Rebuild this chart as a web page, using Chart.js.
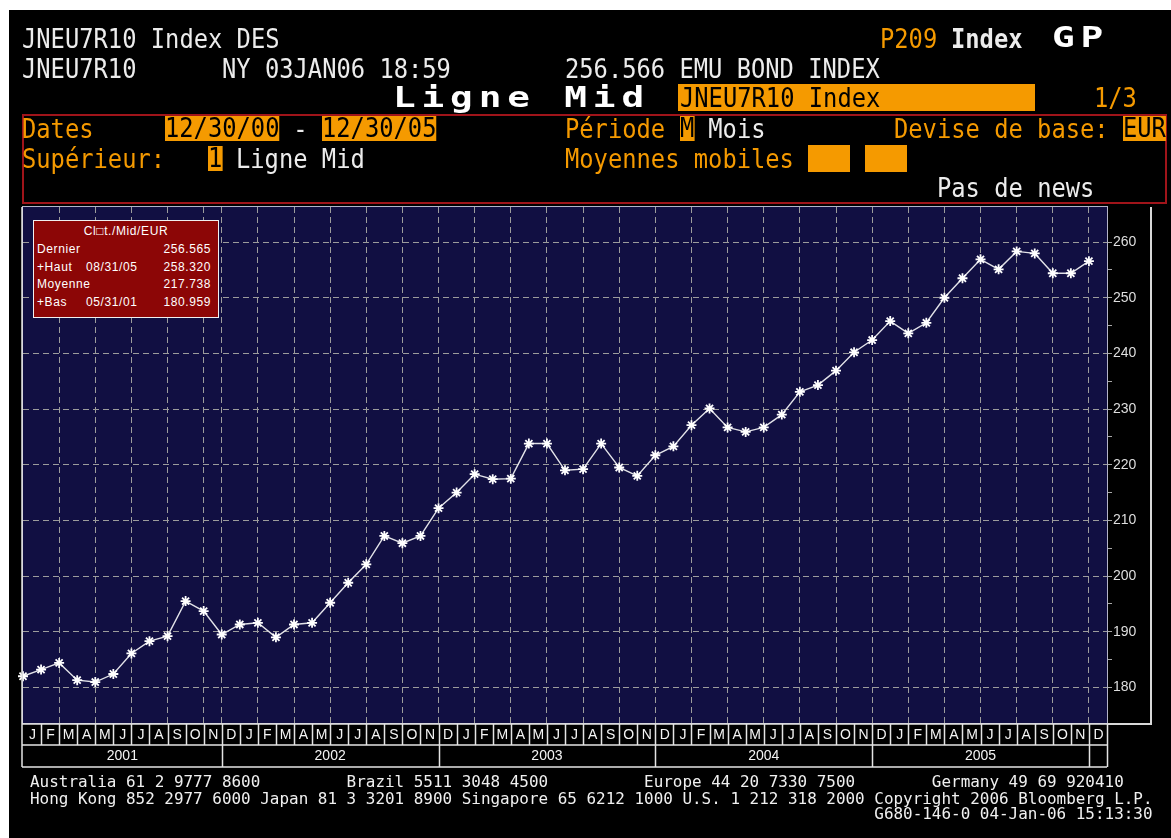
<!DOCTYPE html>
<html>
<head>
<meta charset="utf-8">
<title>JNEU7R10 Index - Ligne Mid</title>
<script src="https://cdn.jsdelivr.net/npm/chart.js@4.4.0/dist/chart.umd.min.js"></script>
<style>
  html, body { margin: 0; padding: 0; background: #fff; width: 1171px; height: 838px; overflow: hidden; }
  #screen { position: absolute; left: 9px; top: 10px; width: 1162px; height: 828px; background: #000; }
  #chart { position: absolute; left: 0; top: 0; }
  .t {
    position: absolute; font-family: 'DejaVu Sans Mono', monospace; font-size: 26px;
    line-height: 30px; height: 30px; white-space: pre; color: #ececec;
    transform: scaleX(0.914); transform-origin: 0 0;
  }
  .o { color: #f59a00; }
  .hl { background: #f59a00; color: #000; line-height: 25px; height: 25px; }
  .big {
    position: absolute; font-family: 'DejaVu Sans Mono', monospace; font-weight: bold;
    font-size: 29px; line-height: 30px; letter-spacing: 4.5px; white-space: pre; color: #fff;
    transform: scaleX(1.3); transform-origin: 0 0;
  }
  .box { position: absolute; background: #f59a00; }
  #frame { position: absolute; left: 22px; top: 114px; width: 1141px; height: 86px; border: 2px solid #a0141a; }
  .f {
    position: absolute; left: 30px; font-family: 'DejaVu Sans Mono', monospace; font-size: 16px;
    line-height: 16px; white-space: pre; color: #f0f0f0;
    transform: scaleX(0.996); transform-origin: 0 0;
  }
  #stats {
    position: absolute; left: 33px; top: 220px; width: 184px; height: 96px;
    background: #8c0606; border: 1px solid #f0f0f0;
    font-family: 'Liberation Sans', Arial, sans-serif; font-size: 12px; color: #fff; letter-spacing: 0.6px;
  }
  #stats div { position: absolute; white-space: pre; line-height: 14px; }
</style>
</head>
<body>
<div id="screen"></div>
<canvas id="chart" width="1171" height="838"></canvas>

<!-- header, Bloomberg terminal rows -->
<div class="t" style="left:22px;top:24px">JNEU7R10 Index DES</div>
<div class="t o" style="left:880px;top:24px">P209</div>
<div class="t" style="left:951px;top:24px;font-weight:bold">Index</div>
<div class="big" style="left:1052px;top:22px">GP</div>

<div class="t" style="left:22px;top:54px">JNEU7R10</div>
<div class="t" style="left:222px;top:54px">NY 03JAN06 18:59</div>
<div class="t" style="left:565px;top:54px">256.566 EMU BOND INDEX</div>

<div class="big" style="left:393px;top:82px">Ligne Mid</div>
<div class="box" style="left:678px;top:84px;width:357px;height:27px"></div>
<div class="t" style="left:680px;top:83px;color:#000">JNEU7R10 Index</div>
<div class="t o" style="left:1094px;top:83px">1/3</div>

<div id="frame"></div>
<div class="t o" style="left:22px;top:114px">Dates</div>
<div class="t hl" style="left:165px;top:116px">12/30/00</div>
<div class="t" style="left:279px;top:114px"> - </div>
<div class="t hl" style="left:322px;top:116px">12/30/05</div>
<div class="t o" style="left:565px;top:114px">Période</div>
<div class="t hl" style="left:680px;top:116px">M</div>
<div class="t" style="left:694px;top:114px"> Mois</div>
<div class="t o" style="left:894px;top:114px">Devise de base:</div>
<div class="t hl" style="left:1123px;top:116px">EUR</div>

<div class="t o" style="left:22px;top:144px">Supérieur:</div>
<div class="t hl" style="left:208px;top:146px">1</div>
<div class="t" style="left:236px;top:144px">Ligne Mid</div>
<div class="t o" style="left:565px;top:144px">Moyennes mobiles</div>
<div class="box" style="left:808px;top:145px;width:42px;height:27px"></div>
<div class="box" style="left:865px;top:145px;width:42px;height:27px"></div>
<div class="t" style="left:937px;top:173px">Pas de news</div>

<div id="stats"></div>

<div class="f" id="foot1" style="top:774px"></div>
<div class="f" id="foot2" style="top:791px"></div>
<div class="f" id="foot3" style="top:806px"></div>

<script>
// Monthly mid close, JNEU7R10 Index, Jan 2001 .. Dec 2005
const midValues = [
  182.0, 183.2, 184.4, 181.3, 180.96, 182.4, 186.1, 188.3, 189.2, 195.5, 193.7, 189.5,
  191.3, 191.6, 189.0, 191.3, 191.6, 195.2, 198.8, 202.1, 207.2, 205.9, 207.2, 212.2,
  215.0, 218.3, 217.4, 217.5, 223.8, 223.8, 219.0, 219.2, 223.8, 219.5, 218.0, 221.7,
  223.3, 227.1, 230.1, 226.7, 225.9, 226.7, 229.0, 233.1, 234.3, 236.9, 240.2, 242.4,
  245.8, 243.6, 245.5, 250.0, 253.5, 256.9, 255.1, 258.32, 257.96, 254.4, 254.4, 256.57
];
const monthLetters = ['J', 'F', 'M', 'A', 'M', 'J', 'J', 'A', 'S', 'O', 'N', 'D'];
const years = ['2001', '2002', '2003', '2004', '2005', ''];
const yearBreaks = [0, 11, 23, 35, 47, 59, 60];
const xGridIdx = [2, 4, 6, 8, 10, 11, 13, 15, 17, 19, 21, 23, 25, 27, 29, 31, 33, 35, 37, 39,
                  41, 43, 45, 47, 49, 51, 53, 55, 57, 59];
const yTicks = [180, 185, 190, 195, 200, 205, 210, 215, 220, 225, 230, 235, 240, 245, 250, 255, 260];
const yLabels = [180, 190, 200, 210, 220, 230, 240, 250, 260];

// stats box
const statNames = ['Dernier', '+Haut', 'Moyenne', '+Bas'];
const statDates = ['', '08/31/05', '', '05/31/01'];
const statValues = ['256.565', '258.320', '217.738', '180.959'];

const footLines = [
  'Australia 61 2 9777 8600'.padEnd(33) + 'Brazil 5511 3048 4500'.padEnd(31) +
    'Europe 44 20 7330 7500'.padEnd(30) + 'Germany 49 69 920410',
  'Hong Kong 852 2977 6000 Japan 81 3 3201 8900 Singapore 65 6212 1000 U.S. 1 212 318 2000 Copyright 2006 Bloomberg L.P.',
  ''.padEnd(88) + 'G680-146-0 04-Jan-06 15:13:30'
];

function buildText() {
    footLines.forEach((s, i) => { document.getElementById('foot' + (i + 1)).textContent = s; });

    const box = document.getElementById('stats');
    const title = document.createElement('div');
    title.textContent = 'Cl\u25A1t./Mid/EUR';
    title.style.cssText = 'left:0;width:184px;text-align:center;top:3px';
    box.appendChild(title);
    statNames.forEach((name, i) => {
        const top = 21 + i * 17.7;
        const a = document.createElement('div');
        a.textContent = name;
        a.style.cssText = `left:3px;top:${top}px`;
        const b = document.createElement('div');
        b.textContent = statDates[i];
        b.style.cssText = `left:52px;top:${top}px`;
        const c = document.createElement('div');
        c.textContent = statValues[i];
        c.style.cssText = `right:7px;top:${top}px`;
        box.appendChild(a); box.appendChild(b); box.appendChild(c);
    });
}

// draws plot background, frame and the month / year strip
const screenPlugin = {
    id: 'screen',
    beforeDraw(chart) {
        const { ctx, chartArea: a } = chart;
        ctx.save();
        ctx.fillStyle = '#110f42';
        ctx.fillRect(a.left, a.top, a.right - a.left, a.bottom - a.top);
        ctx.restore();
    },
    afterDraw(chart) {
        const { ctx, chartArea: a } = chart;
        const x = chart.scales.x;
        const rowMid = a.bottom + 22, rowBot = a.bottom + 44;
        ctx.save();

        // plot frame
        ctx.strokeStyle = '#b4b4c8';
        ctx.lineWidth = 1;
        ctx.strokeRect(a.left - 0.5, a.top - 0.5, a.right - a.left + 1, a.bottom - a.top + 1);

        // y axis frame
        ctx.strokeStyle = '#d8d8d8';
        ctx.lineWidth = 2;
        ctx.beginPath();
        ctx.moveTo(1151, a.top);
        ctx.lineTo(1151, a.bottom + 1);
        ctx.lineTo(a.right, a.bottom + 1);
        ctx.stroke();

        // month / year strip
        ctx.strokeStyle = '#e4e4e4';
        ctx.lineWidth = 1.5;
        ctx.beginPath();
        ctx.moveTo(a.left - 1, a.bottom + 1); ctx.lineTo(a.right, a.bottom + 1);
        ctx.moveTo(a.left - 1, rowMid); ctx.lineTo(a.right, rowMid);
        ctx.moveTo(a.left - 1, rowBot); ctx.lineTo(a.right, rowBot);
        ctx.moveTo(a.left - 1, a.top); ctx.lineTo(a.left - 1, rowBot);
        for (let i = 1; i <= 60; i++) {
            const px = Math.round(x.getPixelForValue(i)) + 0.5;
            ctx.moveTo(px, a.bottom + 1);
            ctx.lineTo(px, yearBreaks.includes(i) ? rowBot : rowMid);
        }
        ctx.stroke();

        ctx.fillStyle = '#f4f4f4';
        ctx.textAlign = 'center';
        ctx.textBaseline = 'middle';
        ctx.font = '14px "Liberation Sans", Arial, sans-serif';
        for (let i = 0; i < midValues.length; i++) {
            const cx = (x.getPixelForValue(i) + x.getPixelForValue(i + 1)) / 2;
            ctx.fillText(monthLetters[i % 12], cx + 0.5, a.bottom + 12);
        }
        ctx.font = '14px "Liberation Sans", Arial, sans-serif';
        years.forEach((yr, k) => {
            const cx = (x.getPixelForValue(yearBreaks[k]) + x.getPixelForValue(yearBreaks[k + 1])) / 2;
            ctx.fillText(yr, cx, rowMid + 11.5);
        });
        ctx.restore();
    }
};

function drawChart() {
    const points = midValues.map((v, i) => ({ x: i, y: v }));
    const ctx = document.getElementById('chart').getContext('2d');
    new Chart(ctx, {
        type: 'line',
        data: {
            datasets: [{
                data: points,
                borderColor: '#e2e2e8',
                borderWidth: 1.4,
                tension: 0,
                clip: false,
                pointStyle: 'star',
                pointRadius: 5,
                pointBorderColor: '#ffffff',
                pointBorderWidth: 1.8,
                pointBackgroundColor: '#ffffff'
            }]
        },
        options: {
            responsive: false,
            animation: false,
            devicePixelRatio: 1,
            layout: { padding: { left: 23, top: 207, right: 8, bottom: 0 } },
            plugins: { legend: { display: false }, tooltip: { enabled: false } },
            scales: {
                x: {
                    type: 'linear', min: 0, max: 60, position: 'bottom',
                    afterBuildTicks: s => { s.ticks = xGridIdx.map(v => ({ value: v })); },
                    afterFit: s => { s.height = 115; },
                    ticks: { display: false },
                    grid: { color: '#9c9c9c', lineWidth: 1, drawTicks: false },
                    border: { display: false, dash: [6, 4] }
                },
                y: {
                    position: 'right', min: 173.6, max: 266.3,
                    afterBuildTicks: s => { s.ticks = yTicks.map(v => ({ value: v })); },
                    afterFit: s => { s.width = 56; },
                    ticks: {
                        color: '#dedede', padding: 1,
                        font: { family: '"Liberation Sans", Arial, sans-serif', size: 14 },
                        callback: v => yLabels.includes(v) ? String(v) : ''
                    },
                    grid: {
                        color: c => yLabels.includes(c.tick && c.tick.value) ? '#9c9c9c' : 'rgba(0,0,0,0)',
                        tickColor: '#a8a8a8', tickLength: 5, lineWidth: 1
                    },
                    border: { display: false, dash: [6, 4] }
                }
            }
        },
        plugins: [screenPlugin]
    });
}

buildText();
drawChart();
</script>
</body>
</html>
